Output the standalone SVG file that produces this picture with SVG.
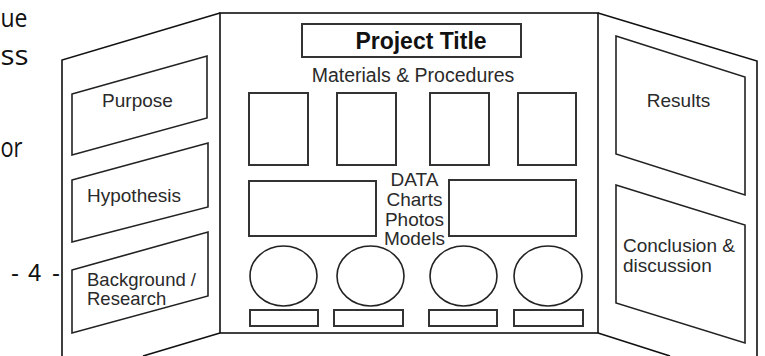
<svg xmlns="http://www.w3.org/2000/svg" width="765" height="356" viewBox="0 0 765 356">
<style>
.frame{fill:none;stroke:#111;stroke-width:1.6}
.box{fill:none;stroke:#222;stroke-width:1.6}
.slot{fill:none;stroke:#333;stroke-width:2}
.lbl{font-family:"Liberation Sans",Arial,sans-serif;font-size:19px;fill:#2a2a2a}
.cut{font-family:"Open Sans","DejaVu Sans",sans-serif;font-size:27px;fill:#111}
</style>
<rect width="765" height="356" fill="#fff"/>
<g id="page-margin-text">
<text class="cut" x="0.5" y="27" textLength="27" lengthAdjust="spacingAndGlyphs" style="font-size:25px">ue</text>
<text class="cut" x="0.5" y="65" textLength="28" lengthAdjust="spacingAndGlyphs">ss</text>
<text class="cut" x="0.5" y="157" textLength="22" lengthAdjust="spacingAndGlyphs">or</text>
<text x="11 19 28 42 52" y="281" style="font-family:'Liberation Sans',Arial,sans-serif;font-size:24px;fill:#111">- 4 -</text>
</g>
<g id="left-panel">
<path class="frame" d="M62,356 L62,60 L220,13 M220,333 L143,356"/>
</g>
<g id="center-panel">
<rect class="frame" x="220" y="13" width="378" height="320"/>
</g>
<g id="right-panel">
<path class="frame" d="M598,13 L757,61 L757,356 M598,333 L670,356"/>
</g>
<g id="purpose">
<polygon class="box" points="72,94 207,56 207,118 72,155"/>
<text class="lbl" x="137.5" y="107" text-anchor="middle">Purpose</text>
</g>
<g id="hypothesis">
<polygon class="box" points="72,180 208,143 208,207 72,242"/>
<text class="lbl" x="87" y="202">Hypothesis</text>
</g>
<g id="background">
<polygon class="box" points="72,270 208,232 208,296 72,333"/>
<text class="lbl" x="87" y="286" style="font-size:18.5px">Background /</text>
<text class="lbl" x="87" y="305" style="font-size:18.5px">Research</text>
</g>
<g id="project-title">
<rect class="slot" x="302" y="24" width="219" height="33" stroke="#111"/>
<text x="421" y="49" text-anchor="middle" style="font-family:'Liberation Sans',Arial,sans-serif;font-size:23px;font-weight:bold;fill:#111">Project Title</text>
</g>
<g id="materials">
<text class="lbl" x="413" y="82" text-anchor="middle" style="font-size:19.5px">Materials &amp; Procedures</text>
<rect class="slot" x="249" y="93" width="59" height="72"/>
<rect class="slot" x="337" y="93" width="59" height="72"/>
<rect class="slot" x="430" y="93" width="59" height="72"/>
<rect class="slot" x="518" y="93" width="58" height="72"/>
</g>
<g id="data">
<rect class="slot" x="249" y="181" width="127" height="55"/>
<rect class="slot" x="449" y="180" width="127" height="56"/>
<text class="lbl" x="414.5" y="186" text-anchor="middle">DATA</text>
<text class="lbl" x="414.5" y="206" text-anchor="middle">Charts</text>
<text class="lbl" x="414.5" y="226" text-anchor="middle">Photos</text>
<text class="lbl" x="414.5" y="245" text-anchor="middle">Models</text>
</g>
<g id="models">
<ellipse class="box" cx="283.5" cy="276" rx="33.5" ry="30"/>
<ellipse class="box" cx="370.5" cy="276" rx="33.5" ry="30"/>
<ellipse class="box" cx="463.5" cy="276" rx="33.5" ry="30"/>
<ellipse class="box" cx="548" cy="276" rx="34" ry="30"/>
<rect class="slot" x="250" y="310" width="68" height="16"/>
<rect class="slot" x="334" y="310" width="69" height="16"/>
<rect class="slot" x="429" y="310" width="68" height="16"/>
<rect class="slot" x="514" y="310" width="69" height="16"/>
</g>
<g id="results">
<polygon class="box" points="616,36 745,77 745,195 616,154"/>
<text class="lbl" x="678.5" y="107" text-anchor="middle">Results</text>
</g>
<g id="conclusion">
<polygon class="box" points="616,185 745,225 745,343 616,303"/>
<text class="lbl" x="623" y="252">Conclusion &amp;</text>
<text class="lbl" x="623" y="272">discussion</text>
</g>
<g id="connectors"></g>
</svg>
